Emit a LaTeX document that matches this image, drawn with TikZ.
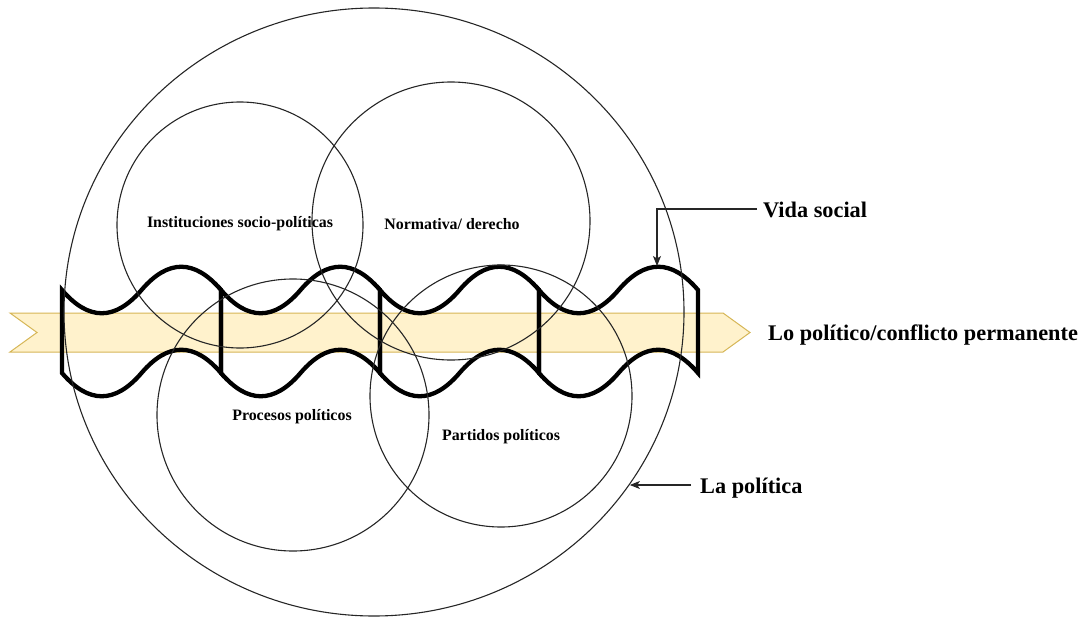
\documentclass[tikz,border=0pt]{standalone}
\usepackage{fontspec}
\setmainfont{Liberation Serif}
\usetikzlibrary{shapes.geometric,arrows.meta}
\definecolor{ribbonfill}{HTML}{FFF2CC}
\definecolor{ribbonline}{HTML}{D6B656}
\begin{document}
\begin{tikzpicture}[x=1pt,y=-1pt,
  ring/.style={circle,draw=black!85,line width=1.1pt,inner sep=0pt},
  tapeline/.style={draw=black,line width=4.3pt,line join=miter},
  ribbon/.style={fill=ribbonfill,draw=ribbonline,line width=1pt},
  biglabel/.style={font=\bfseries\fontsize{22.3}{26}\selectfont,anchor=west,inner sep=0pt},
  smalllabel/.style={font=\bfseries\fontsize{15.9}{19}\selectfont,inner sep=0pt},
  pointer/.style={draw=black!85,line width=1.1pt,-{Stealth[length=10pt,width=8pt,inset=2.5pt]}}]
\useasboundingbox (0,0) rectangle (1090,618);

% notched ribbon: "lo politico"
\path[ribbon] (10,313) -- (723,313) -- (750,332.5) -- (723,352) -- (10,352) -- (37,332.5) -- cycle;

% wavy band made of four tape pieces
\def\mt{290}
\def\mb{373}
\foreach \x in {62,221,380,539} {
  \draw[tapeline] (\x,\mt)
     .. controls ({\x+26.5},{\mt+31}) and ({\x+53},{\mt+31}) .. ({\x+79.5},\mt)
     .. controls ({\x+106},{\mt-31}) and ({\x+132.5},{\mt-31}) .. ({\x+159},\mt)
     -- ({\x+159},\mb)
     .. controls ({\x+132.5},{\mb-31}) and ({\x+106},{\mb-31}) .. ({\x+79.5},\mb)
     .. controls ({\x+53},{\mb+31}) and ({\x+26.5},{\mb+31}) .. (\x,\mb) -- cycle;
}
\coordinate (peak) at (657,266);

% outer ring and the four fields
\node[ellipse,draw=black!85,line width=1.1pt,inner sep=0pt,minimum width=620pt,minimum height=608pt] (big) at (374,312) {};
\node[ring,minimum size=246pt] (inst) at (240,225) {};
\node[ring,minimum size=278pt] (norm) at (451,221) {};
\node[ring,minimum size=272pt] (proc) at (293,415) {};
\node[ring,minimum size=262pt] (part) at (501,396) {};

% field labels
\node[smalllabel] (instl) at (240,224) {Instituciones socio-políticas};
\node[smalllabel] (norml) at (452,224) {Normativa/ derecho};
\node[smalllabel] (procl) at (292,417) {Procesos políticos};
\node[smalllabel] (partl) at (501,437) {Partidos políticos};

% outside labels
\node[biglabel] (vida) at (763,210) {Vida social};
\node[biglabel] (conf) at (768,335) {Lo político/conflicto permanente};
\node[biglabel] (lapol) at (700,488) {La política};

% pointers
\draw[pointer] ([xshift=-6pt,yshift=1pt]vida.west) -| (peak);
\coordinate (lpstart) at ([xshift=-9pt,yshift=3pt]lapol.west);
\draw[pointer] (lpstart) -- (big.-34 |- lpstart);
\end{tikzpicture}
\end{document}
